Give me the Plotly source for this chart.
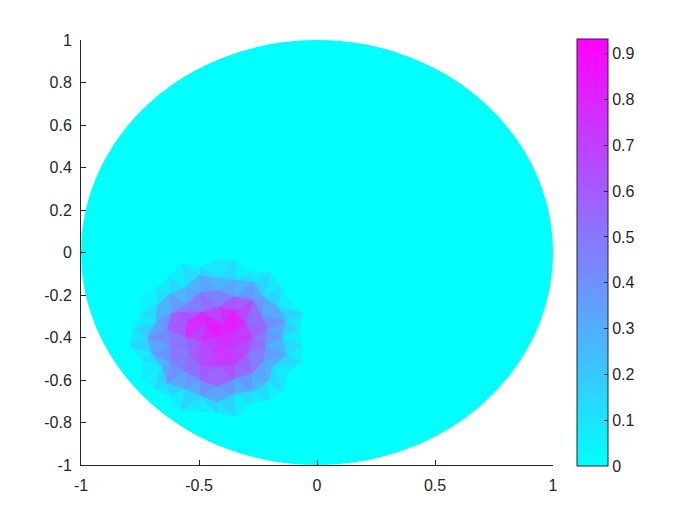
import math
import plotly.graph_objects as go

# ---------------- data ----------------
CENTER_X, CENTER_Y = -0.42, -0.40
CENTER_VALUE = 0.74
RING_RADII = [0.075, 0.145, 0.22, 0.29, 0.36]
RING_OFFSETS_DEG = [15, 0, 10, 0, 6]
RING1_VALUES = [0.78, 0.86, 0.93, 0.66, 0.72, 0.78]
RING2_VALUES = [0.62, 0.70, 0.86, 0.58, 0.62, 0.84, 0.52, 0.55, 0.62, 0.72, 0.72, 0.60]
RING3_VALUES = [0.45, 0.48, 0.45, 0.42, 0.40, 0.42, 0.40, 0.45, 0.48, 0.48,
                0.46, 0.45, 0.48, 0.50, 0.48, 0.42, 0.42, 0.42]
RING4_VALUES = [0.22, 0.28, 0.20, 0.25, 0.22, 0.18, 0.25, 0.20, 0.18, 0.22, 0.15, 0.25,
                0.28, 0.22, 0.20, 0.28, 0.22, 0.25, 0.28, 0.20, 0.22, 0.18, 0.25, 0.20]
RING5_VALUES = [0, 0, 0, 0, 0, 0, 0, 0, 0, 0, 0, 0, 0, 0, 0,
                0, 0, 0, 0, 0, 0, 0, 0, 0, 0, 0, 0, 0, 0, 0]
RING_VALUES = [RING1_VALUES, RING2_VALUES, RING3_VALUES, RING4_VALUES, RING5_VALUES]

C_MIN, C_MAX = 0.0, 0.932
X_TICKS = [-1, -0.5, 0, 0.5, 1]
X_TICK_LABELS = ["-1", "-0.5", "0", "0.5", "1"]
Y_TICKS = [-1, -0.8, -0.6, -0.4, -0.2, 0, 0.2, 0.4, 0.6, 0.8, 1]
Y_TICK_LABELS = ["-1", "-0.8", "-0.6", "-0.4", "-0.2", "0", "0.2", "0.4", "0.6", "0.8", "1"]
CB_TICKS = [0, 0.1, 0.2, 0.3, 0.4, 0.5, 0.6, 0.7, 0.8, 0.9]
CB_TICK_LABELS = ["0", "0.1", "0.2", "0.3", "0.4", "0.5", "0.6", "0.7", "0.8", "0.9"]

# ---------------- mesh geometry ----------------
nodes_x = [CENTER_X]
nodes_y = [CENTER_Y]
nodes_v = [CENTER_VALUE]
rings = []
for ri, (r, off, vals) in enumerate(zip(RING_RADII, RING_OFFSETS_DEG, RING_VALUES)):
    n = len(vals)
    idx = []
    for k in range(n):
        a = math.radians(off) + 2 * math.pi * k / n
        rr = r * (1 + 0.06 * math.cos(2.3 * k + ri))
        idx.append(len(nodes_x))
        nodes_x.append(CENTER_X + rr * math.cos(a))
        nodes_y.append(CENTER_Y + rr * math.sin(a))
        nodes_v.append(vals[k])
    rings.append((idx, math.radians(off)))

tris = []
r1 = rings[0][0]
for k in range(len(r1)):
    tris.append((0, r1[k], r1[(k + 1) % len(r1)]))

for (inner, a0), (outer, b0) in zip(rings[:-1], rings[1:]):
    m, n = len(inner), len(outer)
    i = j = 0
    while i < m or j < n:
        a_next = a0 + 2 * math.pi * (i + 1) / m
        b_next = b0 + 2 * math.pi * (j + 1) / n
        if j >= n or (i < m and a_next <= b_next):
            tris.append((inner[i % m], inner[(i + 1) % m], outer[j % n]))
            i += 1
        else:
            tris.append((inner[i % m], outer[j % n], outer[(j + 1) % n]))
            j += 1


def cool(v):
    t = max(0.0, min(1.0, (v - C_MIN) / (C_MAX - C_MIN)))
    return "rgb(%d,%d,255)" % (round(255 * t), round(255 * (1 - t)))


fig = go.Figure()
for t in tris:
    v = sum(nodes_v[p] for p in t) / 3.0
    c = cool(v)
    xs = [nodes_x[p] for p in t] + [nodes_x[t[0]]]
    ys = [nodes_y[p] for p in t] + [nodes_y[t[0]]]
    fig.add_trace(go.Scatter(x=xs, y=ys, mode="lines", fill="toself", fillcolor=c,
                             line=dict(color=c, width=0.6), hoverinfo="skip",
                             showlegend=False))

AX_COLOR = "#262626"
FONT = dict(family="Liberation Sans, Arial", size=16, color=AX_COLOR)
fig.add_trace(go.Scatter(
    x=[0], y=[0], mode="markers", hoverinfo="skip", showlegend=False,
    marker=dict(size=0.1, opacity=0, color=[0], cmin=C_MIN, cmax=C_MAX,
                colorscale=[[0, "rgb(0,255,255)"], [1, "rgb(255,0,255)"]],
                showscale=True,
                colorbar=dict(x=(577 - 81) / 472, xanchor="left", xpad=0, ypad=0,
                              y=0.5, yanchor="middle", len=427 / 425, lenmode="fraction",
                              thickness=31, thicknessmode="pixels",
                              outlinecolor=AX_COLOR, outlinewidth=1,
                              tickvals=CB_TICKS, ticktext=CB_TICK_LABELS,
                              ticks="inside", ticklen=4, tickcolor=AX_COLOR,
                              tickfont=FONT))))

fig.add_shape(type="circle", xref="x", yref="y", x0=-1, y0=-1, x1=1, y1=1,
              fillcolor="rgb(0,255,255)", line=dict(width=0), layer="below")

axis_common = dict(showgrid=False, zeroline=False, showline=True, linecolor=AX_COLOR,
                   linewidth=1, ticks="inside", ticklen=5, tickcolor=AX_COLOR,
                   mirror=False, tickfont=FONT)

# page body adds an 8px offset; figure coordinates are shifted accordingly
fig.update_layout(
    width=692, height=517,
    margin=dict(l=73, r=147, t=32, b=60),
    paper_bgcolor="white", plot_bgcolor="white",
    showlegend=False,
    xaxis=dict(range=[-1, 1], tickvals=X_TICKS, ticktext=X_TICK_LABELS,
               ticklabelstandoff=6, **axis_common),
    yaxis=dict(range=[-1, 1], tickvals=Y_TICKS, ticktext=Y_TICK_LABELS,
               ticklabelstandoff=5, **axis_common),
)

fig.write_html("out.html")
